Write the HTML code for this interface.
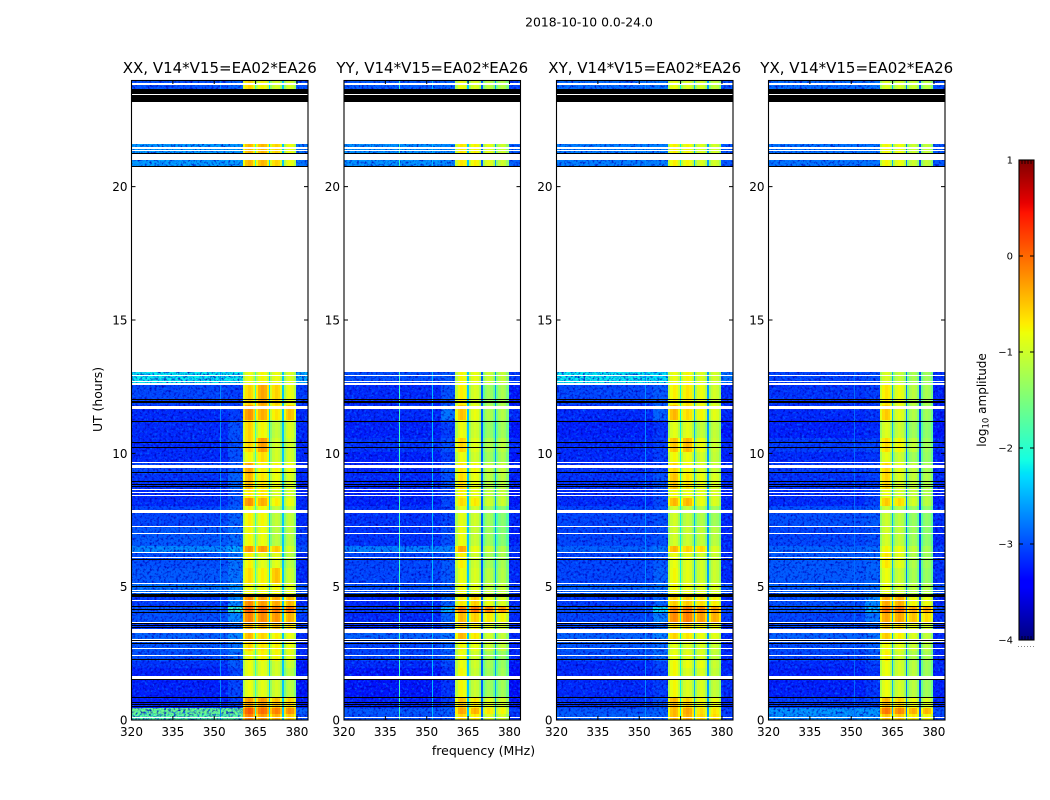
<!DOCTYPE html>
<html>
<head>
<meta charset="utf-8">
<title>2018-10-10 waterfall</title>
<style>
html,body{margin:0;padding:0;background:#fff;width:1050px;height:800px;overflow:hidden}
svg{display:block}
text{font-family:"DejaVu Sans","Liberation Sans",sans-serif;fill:#000}
</style>
</head>
<body>
<svg id="fig" xmlns="http://www.w3.org/2000/svg" width="1050" height="800" viewBox="0 0 1050 800">
  <defs>
    <filter id="speckle" x="0" y="0" width="100%" height="100%" color-interpolation-filters="sRGB">
      <feTurbulence type="fractalNoise" baseFrequency="0.42" numOctaves="2" seed="7" result="n"/>
      <feColorMatrix in="n" type="matrix" values="0 0 0 0 0  0 0 0 0 0.42  0 0 0 0 1  2.6 0 0 0 -1.3" result="bright"/>
      <feColorMatrix in="n" type="matrix" values="0 0 0 0 0  0 0 0 0 0  0 0 0 0 0.72  0 2.6 0 0 -1.25" result="dark"/>
      <feMerge result="m"><feMergeNode in="bright"/><feMergeNode in="dark"/></feMerge>
      <feComposite in="m" in2="SourceAlpha" operator="in" result="clipped"/>
      <feMerge><feMergeNode in="SourceGraphic"/><feMergeNode in="clipped"/></feMerge>
    </filter>
  </defs>
  <text x="589" y="26.5" font-size="12.4" text-anchor="middle">2018-10-10 0.0-24.0</text>
  <text transform="translate(102,399.5) rotate(-90)" font-size="12.4" text-anchor="middle">UT (hours)</text>
  <text x="483.5" y="755" font-size="12.5" text-anchor="middle">frequency (MHz)</text>
  <text transform="translate(986,400) rotate(-90)" font-size="12" text-anchor="middle">log<tspan font-size="8.5" dy="2.5">10</tspan><tspan dy="-2.5"> amplitude</tspan></text>
  <g id="plots"></g>
  <g id="cbar"></g>
</svg>
<script>
// ---- chart data (log10 amplitude, hours, MHz) ----
const panelTitles = ['XX, V14*V15=EA02*EA26','YY, V14*V15=EA02*EA26','XY, V14*V15=EA02*EA26','YX, V14*V15=EA02*EA26'];
const xTickLabels = [320,335,350,365,380];
const yTickLabels = [20,15,10,5,0];
const cbarTickLabels = [-4,-3,-2,-1,0,1];

// time rows, top to bottom (hours)
const rowStart = [24.00,21.60,13.05,12.56,11.81,11.25,10.57,10.05,9.67,9.22,8.62,8.32,8.02,7.24,6.52,6.30,5.70,5.10,4.65,4.28,4.01,3.67,3.26,3.04,2.59,2.21,1.95,0.86,0.45,0.23];
const rowEnd   = [23.62,20.73,12.56,11.81,11.25,10.57,10.05,9.67,9.22,8.62,8.32,8.02,7.24,6.52,6.30,5.70,5.10,4.65,4.28,4.01,3.67,3.26,3.04,2.59,2.21,1.95,0.86,0.45,0.23,0.00];

// frequency bands (MHz)
const lowBandEdges = [320,355,360.4];
const subBandStart = [360.4,365.0,370.0,375.0];
const subBandEnd   = [365.0,370.0,375.0,379.8];
const edgeBandEdges = [379.8,384];
const bandShape = [-0.35,-0.05,0.05,-0.02,-0.3];
const gapFreqs = [365.0,370.0,375.0];

// each row: [320-355, 355-360, sb1, sb2, sb3, sb4, 380-384]
const xxValues = [
[-2.98,-2.88,-.6,-.8,-1,-1,-2.98],[-2.58,-2.58,-.45,-.45,-.6,-.85,-2.78],[-2.2,-2.2,-.85,-.8,-.85,-.95,-2.5],
[-3.03,-3.08,-.6,-.35,-.6,-.85,-3.08],[-3.18,-3.08,-.25,-.4,-.7,-.5,-3.18],[-3.18,-2.98,-.6,-.8,-1.1,-.95,-3.18],
[-3.18,-2.98,-.6,-.3,-1,-1,-3.18],[-3.18,-2.98,-.8,-.65,-1,-1,-3.18],[-3.03,-2.93,-.35,-.75,-.8,-.85,-3.18],
[-3.13,-2.88,-.45,-.7,-.85,-.95,-3.18],[-3.18,-2.98,-.7,-.7,-.95,-1,-3.18],[-3.18,-2.98,-.25,-.4,-.75,-.85,-3.18],
[-3.03,-2.88,-.75,-.8,-1.1,-1.1,-3.18],[-2.93,-2.83,-.8,-.85,-1.15,-1.15,-3.08],[-2.68,-2.53,-.25,-.3,-.55,-1,-2.98],
[-2.98,-2.78,-.75,-.9,-.9,-1.15,-3.18],[-2.93,-2.78,-.65,-.75,-.5,-1.05,-3.18],[-2.78,-2.63,-.8,-.8,-.8,-.9,-2.98],
[-3.08,-2.68,-.2,-.3,-.35,-.45,-3.18],[-2.93,-1.95,.05,0,-.1,-.05,-2.88],[-2.98,-2.68,-.15,-.2,-.25,-.4,-3.08],
[-3.08,-2.88,-.4,-.45,-.5,-.65,-3.08],[-2.88,-2.68,-.45,-.6,-.75,-.85,-3.18],[-2.93,-2.78,-.6,-.7,-.75,-.85,-3.18],
[-2.98,-2.83,-.8,-.75,-.8,-.9,-3.18],[-3.13,-2.93,-.85,-.9,-1,-1.05,-3.28],[-3.23,-3.03,-.85,-.9,-1,-1.15,-3.28],
[-3.23,-3.08,-.3,-.3,-.5,-.6,-3.28],[-1.6,-1.6,.05,-.05,-.15,-.25,-2.88],[-1.7,-1.65,-.15,-.3,-.4,-.55,-2.98]];
const yyValues = [
[-2.93,-2.88,-.85,-.95,-1.15,-1.2,-3.08],[-2.63,-2.68,-.7,-.75,-.9,-1.05,-2.88],[-2.98,-2.93,-.8,-.85,-1.05,-1.1,-3.08],
[-3.18,-2.98,-.75,-.95,-1.3,-1.25,-3.28],[-3.18,-2.78,-.5,-.85,-1.2,-1.2,-3.18],[-3.23,-3.08,-.85,-1,-1.35,-1.3,-3.28],
[-3.13,-2.98,-.6,-.9,-1.2,-1.15,-3.18],[-3.23,-3.08,-.85,-1,-1.3,-1.25,-3.28],[-3.18,-2.93,-.7,-.8,-1.1,-1.1,-3.18],
[-3.18,-2.98,-.65,-.85,-1.15,-1.15,-3.23],[-3.23,-3.08,-.75,-.85,-1.1,-1.1,-3.28],[-3.23,-3.03,-.65,-.7,-1,-1.05,-3.28],
[-3.13,-3.03,-.9,-1,-1.3,-1.45,-3.18],[-3.13,-2.98,-.85,-1.05,-1.3,-1.45,-3.23],[-2.73,-2.73,-.35,-.85,-1.05,-1.2,-3.08],
[-3.03,-2.93,-.75,-1,-1.25,-1.25,-3.18],[-3.03,-2.93,-.85,-.95,-1.15,-1.2,-3.18],[-2.98,-2.88,-.8,-.9,-1.1,-1.1,-3.08],
[-3.18,-2.88,-.7,-.55,-.85,-.95,-3.18],[-3.08,-2.5,-.1,-.05,-.15,-.25,-2.98],[-3.18,-2.88,-.45,-.55,-.7,-.8,-3.18],
[-3.18,-2.98,-.6,-.75,-.9,-1,-3.18],[-2.88,-2.78,-.45,-.7,-1,-1.1,-3.18],[-3.03,-2.88,-.8,-.85,-1.05,-1.1,-3.18],
[-3.03,-2.93,-.85,-1,-1.25,-1.35,-3.18],[-3.18,-3.03,-.85,-1,-1.25,-1.35,-3.28],[-3.28,-3.13,-.8,-1.05,-1.3,-1.3,-3.33],
[-3.23,-3.08,-.5,-.7,-.9,-1,-3.28],[-2.93,-2.88,-.35,-.4,-.7,-.8,-3.08],[-2.98,-2.93,-.6,-.7,-.95,-1,-3.13]];
const xyValues = [
[-2.83,-2.78,-.85,-.95,-1,-1.1,-2.98],[-2.73,-2.73,-.75,-.8,-.95,-1,-2.93],[-2.2,-2.25,-.85,-.8,-.95,-1,-2.78],
[-3.03,-2.93,-.75,-.7,-.85,-1,-3.18],[-3.18,-2.88,-.45,-.65,-.8,-.9,-3.18],[-3.23,-3.13,-.9,-.9,-1.1,-1.1,-3.28],
[-3.18,-3.08,-.5,-.45,-.85,-1.05,-3.18],[-3.18,-3.08,-.8,-.85,-1,-1.1,-3.23],[-3.13,-3.03,-.6,-.8,-.95,-1.05,-3.18],
[-3.13,-2.98,-.5,-.7,-.85,-.95,-3.18],[-3.18,-3.03,-.8,-.85,-.9,-.95,-3.23],[-3.18,-3.03,-.45,-.45,-.85,-.95,-3.23],
[-3.03,-2.98,-1,-1.1,-1.2,-1.3,-3.18],[-3.03,-2.98,-1,-1.05,-1.1,-1.15,-3.18],[-2.88,-2.78,-.45,-.6,-.65,-.95,-3.18],
[-3.03,-2.93,-.85,-.9,-1,-1.05,-3.18],[-3.03,-2.88,-.8,-.9,-1,-1.05,-3.18],[-2.88,-2.78,-.8,-.85,-.9,-.95,-2.98],
[-3.08,-2.88,-.55,-.55,-.65,-.75,-3.18],[-2.98,-2.25,-.15,-.1,-.15,-.3,-2.98],[-3.03,-2.73,-.2,-.15,-.3,-.4,-3.08],
[-3.03,-2.88,-.65,-.6,-.75,-.85,-3.18],[-2.88,-2.73,-.6,-.7,-.85,-.9,-3.18],[-2.93,-2.83,-.9,-.95,-.95,-1.05,-3.18],
[-2.98,-2.83,-.85,-.9,-.95,-1.1,-3.18],[-3.18,-3.03,-.8,-.85,-.85,-1.05,-3.23],[-3.18,-3.08,-.8,-.95,-.95,-1.1,-3.18],
[-3.13,-2.98,-.45,-.6,-.8,-.85,-3.18],[-2.93,-2.88,-.45,-.35,-.65,-.7,-3.08],[-2.88,-2.88,-.45,-.4,-.6,-.65,-3.08]];
const yxValues = [
[-2.83,-2.78,-.95,-1,-1.05,-1.15,-2.98],[-2.78,-2.78,-.8,-.85,-1.05,-1.1,-2.93],[-3.03,-2.98,-.95,-1.1,-1.25,-1.3,-3.13],
[-3.13,-3.08,-.7,-.85,-1.15,-1.25,-3.23],[-3.18,-3.13,-.55,-.9,-1.2,-1.3,-3.23],[-3.23,-3.18,-.95,-1.05,-1.3,-1.4,-3.28],
[-3.08,-3.03,-.65,-.8,-1.1,-1.3,-3.18],[-3.18,-3.13,-.9,-1.05,-1.3,-1.35,-3.23],[-3.08,-3.03,-.6,-.9,-1.1,-1.25,-3.18],
[-3.13,-3.08,-.6,-.95,-1.1,-1.2,-3.18],[-3.18,-3.08,-.85,-1,-1.1,-1.2,-3.23],[-3.18,-3.08,-.55,-.65,-1,-1.15,-3.23],
[-2.98,-2.93,-1.05,-1.15,-1.35,-1.4,-3.13],[-3.03,-2.98,-1,-1.1,-1.3,-1.4,-3.18],[-2.88,-2.83,-.8,-.85,-1.1,-1.25,-3.08],
[-2.93,-2.88,-.7,-.9,-1.2,-1.3,-3.13],[-2.93,-2.88,-.85,-1.05,-1.25,-1.35,-3.13],[-2.88,-2.83,-.85,-1,-1.15,-1.2,-2.98],
[-2.98,-2.68,-.35,-.4,-.8,-.85,-3.18],[-2.93,-2.45,-.05,-.05,-.35,-.35,-2.98],[-3.03,-2.78,-.35,-.35,-.5,-.65,-3.13],
[-3.03,-2.93,-.55,-.65,-.9,-1,-3.18],[-2.88,-2.78,-.55,-.75,-.95,-1.1,-3.18],[-2.98,-2.88,-.8,-.9,-1.05,-1.15,-3.18],
[-3.03,-2.93,-.75,-1,-1.2,-1.25,-3.18],[-3.18,-3.08,-.85,-1,-1.15,-1.3,-3.18],[-3.23,-3.13,-.85,-1,-1.15,-1.3,-3.23],
[-3.08,-3.03,-.45,-.6,-.85,-.95,-3.18],[-2.6,-2.6,-.1,-.2,-.4,-.45,-2.98],[-2.65,-2.65,-.5,-.55,-.7,-.8,-3.03]];
const panelValues = [xxValues,yyValues,xyValues,yxValues];

// level of the three channel gaps per panel
const xxGaps = [-1.9,-2.3,-2.4];
const yyGaps = [-2.4,-2.9,-2.6];
const xyGaps = [-2.2,-2.5,-2.6];
const yxGaps = [-2.5,-2.8,-3.0];
const panelGaps = [xxGaps,yyGaps,xyGaps,yxGaps];

// narrow interference channels: [MHz, level]
const xxSpurs = [[352.0,-2.7]];
const yySpurs = [[339.8,-1.9],[351.9,-2.45]];
const xySpurs = [[352.0,-2.7]];
const yxSpurs = [[351.0,-2.85]];
const panelSpurs = [xxSpurs,yySpurs,xySpurs,yxSpurs];

// flagged time ranges common to all panels [start h, end h]
const whiteFlags = [[23.87,23.83],[23.48,23.45],[21.47,21.43],[21.37,21.34],[21.21,21.00],[12.94,12.91],[12.70,12.67],[12.62,12.57],
[11.79,11.66],[9.67,9.62],[9.56,9.46],[8.66,8.61],[8.55,8.52],[8.45,8.41],[7.87,7.77],[7.27,7.24],[7.01,6.97],
[6.30,6.26],[6.11,6.07],[5.13,5.09],[4.87,4.82],[4.81,4.75],[4.50,4.46],[3.69,3.65],[3.42,3.27],[3.05,3.00],
[2.97,2.91],[2.69,2.65],[2.43,2.39],[1.65,1.54],[0.11,0.07]];
const blackFlags = [[23.65,23.48],[23.44,23.19],[21.27,21.21],[20.79,20.73],[12.05,12.03],[11.97,11.96],[11.92,11.89],
[11.20,11.17],[10.42,10.40],[10.22,10.20],[9.31,9.29],[8.97,8.93],[8.86,8.84],[8.79,8.76],[6.03,6.00],[5.04,5.01],
[4.72,4.62],[4.26,4.23],[4.15,4.12],[4.04,4.01],[3.65,3.63],[3.56,3.54],[3.50,3.46],[3.00,2.97],[2.87,2.85],
[2.30,2.28],[1.53,1.49],[0.86,0.84],[0.69,0.66],[0.60,0.57],[0.54,0.50]];

// ---- layout & scales ----
const NS = 'http://www.w3.org/2000/svg';
const panelLeft = [131.5,344,556.5,768.5];
const panelWidth = 176.5;
const plotTop = 80, plotBottom = 720;
const xScale = (p,f) => panelLeft[p] + (f-320)/(384-320)*panelWidth;
const yScale = h => plotBottom - (h/24)*(plotBottom-plotTop);
const cbTop = 160, cbBottom = 640, cbLeft = 1019, cbRight = 1034;
const cbScale = v => cbBottom - (v+4)/5*(cbBottom-cbTop);

function interp(t,pts){
  for(let i=1;i<pts.length;i++){
    if(t<=pts[i][0]){const a=pts[i-1],b=pts[i];return a[1]+(b[1]-a[1])*(t-a[0])/(b[0]-a[0]);}
  }
  return pts[pts.length-1][1];
}
function jet(v){
  const t=Math.max(0,Math.min(1,(v+4)/5));
  const r=interp(t,[[0,0],[.35,0],[.66,1],[.89,1],[1,.5]]);
  const g=interp(t,[[0,0],[.125,0],[.375,1],[.64,1],[.91,0],[1,0]]);
  const b=interp(t,[[0,.5],[.11,1],[.34,1],[.65,0],[1,0]]);
  return 'rgb('+Math.round(r*255)+','+Math.round(g*255)+','+Math.round(b*255)+')';
}
function mk(tag,attrs,parent){
  const el=document.createElementNS(NS,tag);
  for(const k in attrs) el.setAttribute(k,attrs[k]);
  parent.appendChild(el);
  return el;
}
function cell(parent,p,f0,f1,h0,h1,value){
  const x0=Math.round(xScale(p,f0)),x1=Math.round(xScale(p,f1));
  const y0=Math.round(yScale(h0)),y1=Math.round(yScale(h1));
  const el=mk('rect',{x:x0,y:y0,width:Math.max(1,x1-x0),height:Math.max(1,y1-y0),fill:jet(value),'shape-rendering':'crispEdges'},parent);
  
  
  return el;
}

const plots=document.getElementById('plots');
panelTitles.forEach((title,p)=>{
  const g=mk('g',{},plots);
  
  

  const low=mk('g',{filter:'url(#speckle)'},g);
  
  
  const band=mk('g',{},g);
  
  

  panelValues[p].forEach((row,i)=>{
    const h0=rowStart[i],h1=rowEnd[i];
    cell(low,p,lowBandEdges[0],lowBandEdges[1],h0,h1,row[0]);
    cell(low,p,lowBandEdges[1],lowBandEdges[2],h0,h1,row[1]);
    cell(low,p,edgeBandEdges[0],edgeBandEdges[1],h0,h1,row[6]);
    panelSpurs[p].forEach(s=>{
      const fw=0.36;
      cell(band,p,s[0],s[0]+fw,h0,h1,s[1]);
    });
    subBandStart.forEach((fs,b)=>{
      const w=(subBandEnd[b]-fs)/bandShape.length;
      bandShape.forEach((off,k)=>{
        cell(band,p,fs+k*w,fs+(k+1)*w,h0,h1,row[2+b]+off);
      });
    });
    gapFreqs.forEach((gf,k)=>{
      cell(band,p,gf-0.25,gf+0.25,h0,h1,panelGaps[p][k]);
    });
  });

  whiteFlags.forEach(fl=>{
    const y0=Math.round(yScale(fl[0])),y1=Math.round(yScale(fl[1]));
    const r=mk('rect',{x:panelLeft[p],y:y0,width:panelWidth,height:Math.max(1,y1-y0),fill:'#fff','shape-rendering':'crispEdges'},g);
    
    
  });
  blackFlags.forEach(fl=>{
    const y0=Math.round(yScale(fl[0])),y1=Math.round(yScale(fl[1]));
    const r=mk('rect',{x:panelLeft[p],y:y0,width:panelWidth,height:Math.max(1,y1-y0),fill:'#000','shape-rendering':'crispEdges'},g);
    
    
  });

  const frame=mk('rect',{x:panelLeft[p],y:plotTop+0.5,width:panelWidth,height:plotBottom-plotTop-0.5,fill:'none',stroke:'#000','stroke-width':1.1},g);
  
  

  const t=mk('text',{x:panelLeft[p]+panelWidth/2,y:73,'font-size':15,'text-anchor':'middle'},g);
  t.textContent=title;
  
  

  xTickLabels.forEach(v=>{
    const x=xScale(p,v);
    const tk=mk('path',{d:'M'+x+' '+plotBottom+'v-4M'+x+' '+plotTop+'v4',stroke:'#000','stroke-width':1,fill:'none'},g);
    
    
    const lb=mk('text',{x:x,y:736,'font-size':12,'text-anchor':'middle'},g);
    lb.textContent=v;
    
    
  });
  yTickLabels.forEach(v=>{
    const y=yScale(v);
    const L=panelLeft[p],R=L+panelWidth;
    const tk=mk('path',{d:'M'+L+' '+y+'h4M'+R+' '+y+'h-4',stroke:'#000','stroke-width':1,fill:'none'},g);
    
    
    const lb=mk('text',{x:L-4,y:y+4.5,'font-size':12,'text-anchor':'end'},g);
    lb.textContent=v;
    
    
  });
});

// ---- colorbar ----
const cbar=document.getElementById('cbar');
for(let y=cbTop;y<cbBottom;y++){
  const v=-4+(cbBottom-y-0.5)/(cbBottom-cbTop)*5;
  const s=mk('rect',{x:cbLeft,y:y,width:cbRight-cbLeft,height:1,fill:jet(v),'shape-rendering':'crispEdges'},cbar);
  
  
}
const cbFrame=mk('rect',{x:cbLeft,y:cbTop,width:cbRight-cbLeft,height:cbBottom-cbTop,fill:'none',stroke:'#000','stroke-width':1.1},cbar);


cbarTickLabels.forEach(v=>{
  const y=cbScale(v);
  const tk=mk('path',{d:'M'+cbLeft+' '+y+'h4M'+cbRight+' '+y+'h-4',stroke:'#000','stroke-width':1,fill:'none'},cbar);
  
  
  const lb=mk('text',{x:1013,y:y+3.5,'font-size':10,'text-anchor':'end'},cbar);
  lb.textContent=String(v).replace('-','\u2212');
  
  
});
for(let i=0;i<6;i++){
  const x=cbLeft+i*3;
  const mt=mk('path',{d:'M'+x+' '+cbTop+'v4M'+x+' '+cbBottom+'v-4',stroke:'#000','stroke-width':0.8,fill:'none'},cbar);
  
  
  const d=mk('rect',{x:x-1,y:646,width:1,height:1,fill:'#888'},cbar);
  
  
}
</script>
</body>
</html>
